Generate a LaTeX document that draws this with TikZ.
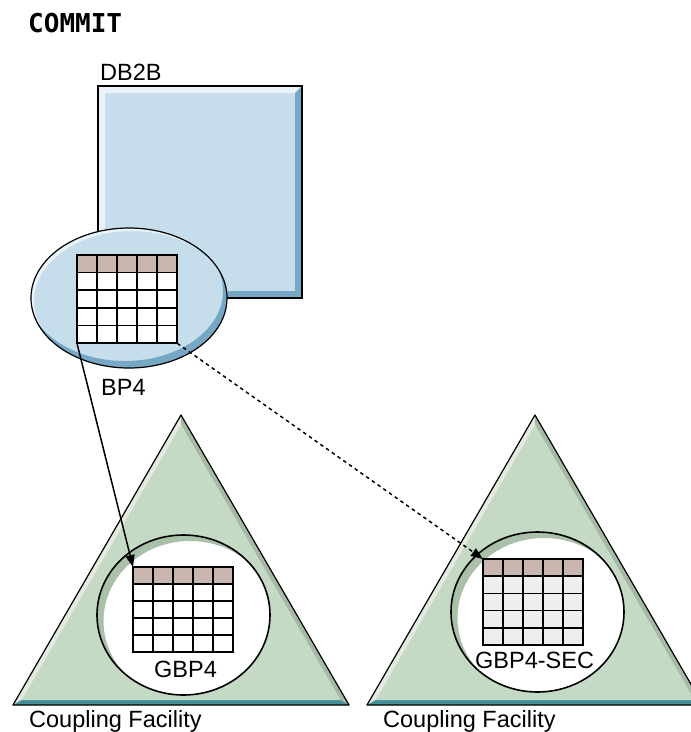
\documentclass[tikz,border=0pt]{standalone}
\usepackage{fontspec}
\setmainfont{Liberation Sans}
\newfontfamily\commitfont{DejaVu Sans Mono}
\usetikzlibrary{arrows.meta}

\definecolor{sysblue}{HTML}{C6DEEC}
\definecolor{sysbluelt}{HTML}{EAF3F8}
\definecolor{sysbluedk}{HTML}{76A7C4}
\definecolor{cfgreen}{HTML}{C4DAC4}
\definecolor{cfgreenlt}{HTML}{E5EAE1}
\definecolor{cfgreendk}{HTML}{A5BAA5}
\definecolor{cfteal}{HTML}{428E99}
\definecolor{holeshade}{HTML}{A9C1A9}
\definecolor{pagehdr}{HTML}{C9B6AE}
\definecolor{secpage}{HTML}{EEEEEE}

\tikzset{
  lbl/.style={font=\fontsize{23.5}{26}\selectfont, inner sep=0pt, anchor=base west},
  tabframe/.style={minimum width=100pt, inner sep=0pt, anchor=north west},
  tabline/.style={line width=1.6pt},
  outline/.style={draw=black, line width=1.2pt},
  link/.style={line width=1.5pt, -{Triangle[length=12pt,width=9pt]}},
}

\begin{document}
\begin{tikzpicture}[x=1pt, y=-1pt]
  \clip (0,0) rectangle (691,732);

  \node[font=\commitfont\bfseries\fontsize{26}{28}\selectfont, inner sep=0pt,
        anchor=base west] (commit) at (28,32.5) {COMMIT};

  % DB2B system box, bevelled
  \fill[sysblue] (98,86) rectangle (302,298);
  \fill[sysbluelt] (98,86) -- (302,86) -- (295,93) -- (105,93) -- (105,291) -- (98,298) -- cycle;
  \fill[sysbluedk] (302,86) -- (302,298) -- (98,298) -- (105,291) -- (295,291) -- (295,93) -- cycle;
  \draw[outline] (98,86) rectangle (302,298);
  \node[lbl] (db2b) at (100,80) {DB2B};

  % local buffer pool
  \fill[sysblue] (129,298) ellipse [x radius=98, y radius=70];
  \begin{scope}
    \clip (129,298) ellipse [x radius=98, y radius=70];
    \fill[sysbluelt, even odd rule] (129,298) ellipse [x radius=98, y radius=70]
      (132,301) ellipse [x radius=98, y radius=70];
    \fill[sysbluedk, even odd rule] (129,298) ellipse [x radius=98, y radius=70]
      (125,291) ellipse [x radius=98, y radius=70];
  \end{scope}
  \draw[outline] (129,298) ellipse [x radius=98, y radius=70];
  \node[lbl] (bp4lbl) at (101,395) {BP4};

  % coupling facilities
  \foreach \cf/\ax/\cy in {cfa/181/615, cfb/535/612} {
    \fill[cfgreenlt] (\ax,415) -- (\ax-168,705) -- (\ax-159.3,700) -- (\ax,425) -- cycle;
    \fill[cfgreendk] (\ax,415) -- (\ax+168,705) -- (\ax+159.3,700) -- (\ax,425) -- cycle;
    \fill[cfteal] (\ax-168,705) -- (\ax+168,705) -- (\ax+159.3,700) -- (\ax-159.3,700) -- cycle;
    \fill[cfgreen] (\ax,425) -- (\ax+159.3,700) -- (\ax-159.3,700) -- cycle;
    \draw[outline, line join=round] (\ax,415) -- (\ax+168,705) -- (\ax-168,705) -- cycle;
    % group buffer pool hole
    \fill[white] (\ax+2.5,\cy) ellipse [x radius=86.5, y radius=80];
    \begin{scope}
      \clip (\ax+2.5,\cy) ellipse [x radius=86.5, y radius=80];
      \fill[holeshade, even odd rule] (\ax+2.5,\cy) ellipse [x radius=86.5, y radius=80]
        (\ax+9,\cy+6) ellipse [x radius=86.5, y radius=80];
    \end{scope}
    \draw[outline, line width=1.6pt] (\ax+2.5,\cy) ellipse [x radius=86.5, y radius=80];
    \node[lbl] (\cf-lbl) at (\ax-152,727) {Coupling Facility};
  }

  % page tables
  \foreach \tname/\tx/\ty/\th/\tfill in {bp4/77/255/88/white, gbp/133/567/85/white,
                                        sec/483/559/86/secpage} {
    \pgfmathsetmacro\rh{\th/5}
    \node[tabframe, minimum height=\th pt, fill=\tfill] (\tname) at (\tx,\ty) {};
    \fill[pagehdr] (\tx,\ty) rectangle (\tx+100,\ty+\rh);
    \foreach \c in {1,...,4}
      \draw[tabline] (\tx+\c*20,\ty) -- (\tx+\c*20,\ty+\th);
    \foreach \r in {1,...,4}
      \draw[tabline] (\tx,\ty+\r*\rh) -- (\tx+100,\ty+\r*\rh);
    \draw[line width=2pt] (\tname.north west) rectangle (\tname.south east);
  }
  \node[lbl] (gbplbl) at (154,677) {GBP4};
  \node[lbl] (seclbl) at (475,668) {GBP4-SEC};

  \draw[link] (bp4.south west) -- (gbp.north west);
  \draw[link, dash pattern=on 3.5pt off 3.5pt] (bp4.south east) -- (sec.north west);
\end{tikzpicture}
\end{document}
